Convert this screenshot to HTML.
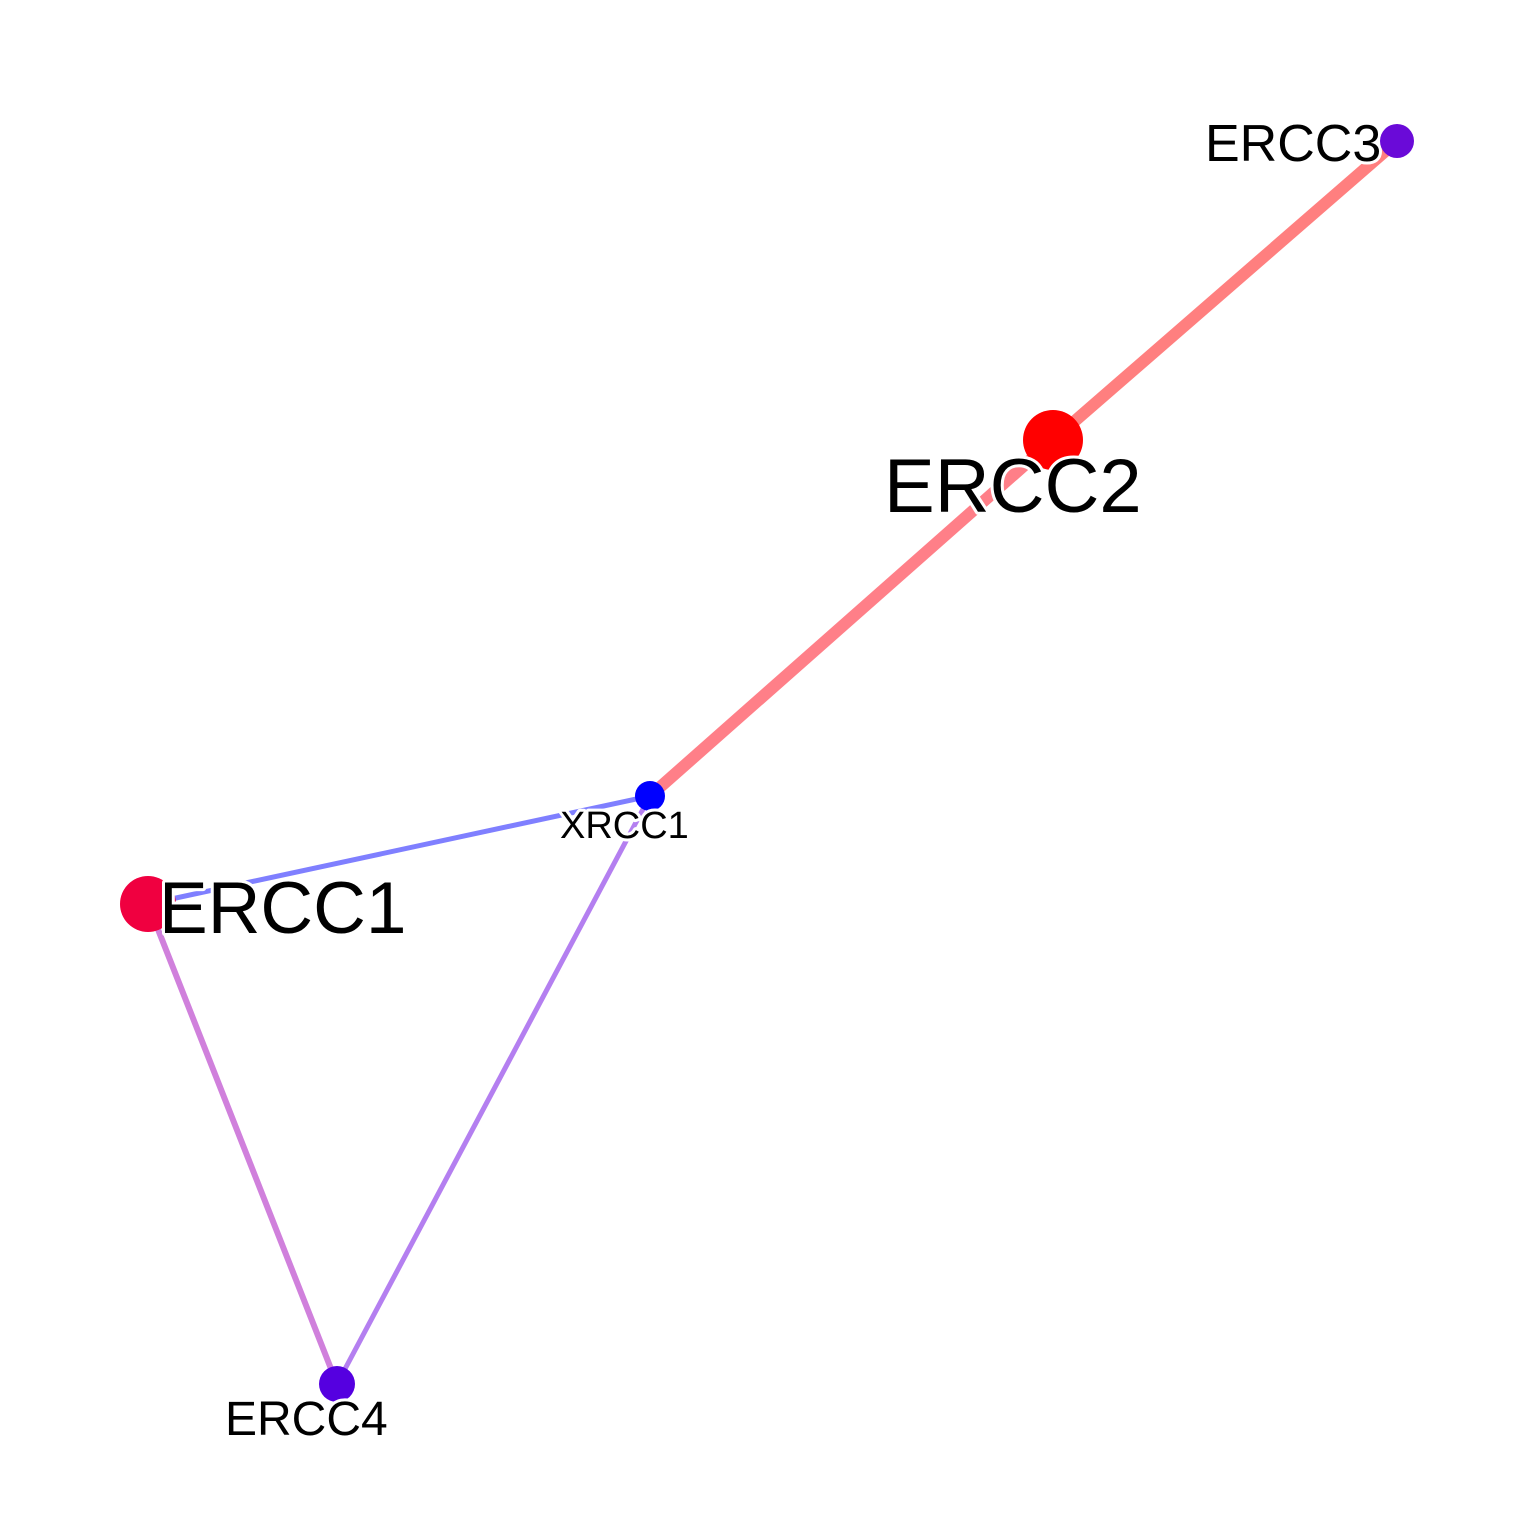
<!DOCTYPE html>
<html><head><meta charset="utf-8"><style>
html,body{margin:0;padding:0;background:#fff;}
svg{display:block;}
text{font-family:"Liberation Sans",Arial,sans-serif;fill:#000;stroke:#fff;stroke-width:6px;paint-order:stroke;stroke-linejoin:round;}
</style></head><body>
<svg width="1536" height="1536" viewBox="0 0 1536 1536" xmlns="http://www.w3.org/2000/svg">
<rect width="1536" height="1536" fill="#fff"/>
<g stroke-linecap="butt" fill="none">
<line x1="1397" y1="141" x2="1053" y2="440" stroke="#ff7f7f" stroke-width="12"/>
<line x1="1053" y1="440" x2="650" y2="796" stroke="#ff7f88" stroke-width="12"/>
<line x1="650" y1="796" x2="148" y2="904" stroke="#7f7fff" stroke-width="5"/>
<line x1="650" y1="796" x2="337" y2="1384" stroke="#b47ff0" stroke-width="5"/>
<line x1="148" y1="904" x2="337" y2="1384" stroke="#d080dc" stroke-width="6"/>
</g>
<circle cx="1053" cy="440" r="30" fill="#ff0000"/>
<circle cx="650" cy="796" r="15" fill="#0000ff"/>
<circle cx="148" cy="904" r="28" fill="#f00040"/>
<circle cx="337" cy="1384" r="18" fill="#5500e0"/>
<text x="1205" y="161" font-size="52">ERCC3</text>
<circle cx="1397" cy="141" r="17" fill="#6a0ad8"/>
<text x="884" y="512" font-size="76">ERCC2</text>
<text x="560" y="838" font-size="38">XRCC1</text>
<text x="159" y="933" font-size="73">ERCC1</text>
<text x="225" y="1435" font-size="48">ERCC4</text>
</svg>
</body></html>
